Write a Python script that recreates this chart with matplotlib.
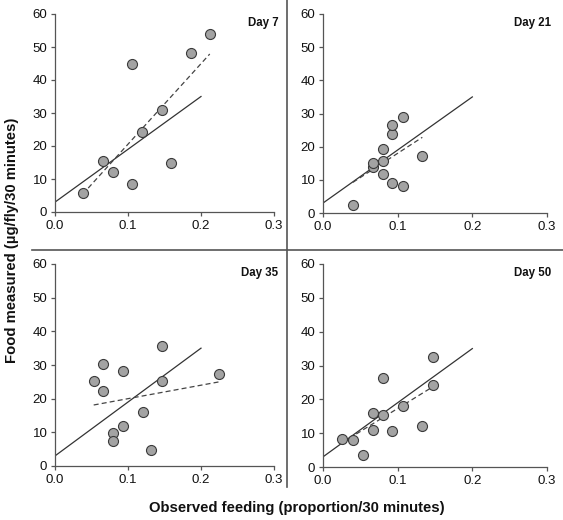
import matplotlib
matplotlib.use("Agg")
import matplotlib.pyplot as plt
from matplotlib.lines import Line2D
import numpy as np

plt.rcParams['font.family'] = ['Liberation Sans', 'DejaVu Sans']

days = ["Day 7", "Day 21", "Day 35", "Day 50"]

day7_x = [0.038, 0.066, 0.079, 0.106, 0.106, 0.119, 0.146, 0.159, 0.186, 0.212]
day7_y = [5.9, 15.5, 12.1, 44.7, 8.5, 24.3, 30.9, 15.0, 48.1, 53.9]

day21_x = [0.040, 0.067, 0.067, 0.080, 0.080, 0.080, 0.093, 0.093, 0.093, 0.107, 0.107, 0.133]
day21_y = [2.4, 13.8, 15.1, 19.4, 15.7, 11.7, 23.7, 26.5, 9.0, 28.8, 8.2, 17.1]

day35_x = [0.053, 0.066, 0.066, 0.079, 0.079, 0.093, 0.093, 0.120, 0.132, 0.146, 0.146, 0.225]
day35_y = [25.2, 30.2, 22.3, 9.9, 7.5, 28.3, 11.9, 15.9, 4.9, 35.5, 25.3, 27.2]

day50_x = [0.026, 0.040, 0.053, 0.067, 0.067, 0.080, 0.080, 0.093, 0.107, 0.133, 0.147, 0.147]
day50_y = [8.3, 7.9, 3.4, 15.9, 10.9, 26.3, 15.4, 10.7, 18.0, 12.1, 32.4, 24.3]

# common (solid) line: intercept, slope, x-range
solid_intercept = 3.0
solid_slope = 160.0
solid_xrange = [0.0, 0.2]

# per-day dashed fits: intercept, slope (drawn over data x-range)
dash_intercepts = [-3.85, 3.4, 16.0, 3.7]
dash_slopes = [244.0, 146.0, 40.0, 136.0]

xs_all = [day7_x, day21_x, day35_x, day50_x]
ys_all = [day7_y, day21_y, day35_y, day50_y]

x_ticks = [0.0, 0.1, 0.2, 0.3]
x_ticklabels = ["0.0", "0.1", "0.2", "0.3"]
y_ticks = [0, 10, 20, 30, 40, 50, 60]

W, H = 563, 520
fig = plt.figure(figsize=(W / 100, H / 100), dpi=100)

# pixel boxes: left, right, top, bottom
boxes = [(55, 274, 14, 212), (323, 547, 14, 213),
         (55, 274, 264, 466), (323, 547, 264, 467)]

axis_col = "#555555"
for i, (l, r, t, b) in enumerate(boxes):
    ax = fig.add_axes([l / W, 1 - b / H, (r - l) / W, (b - t) / H])
    ax.set_xlim(0, 0.3)
    ax.set_ylim(0, 60)
    for s in ["top", "right"]:
        ax.spines[s].set_visible(False)
    for s in ["left", "bottom"]:
        ax.spines[s].set_color(axis_col)
        ax.spines[s].set_linewidth(0.9)
    ax.set_xticks(x_ticks)
    ax.set_xticklabels(x_ticklabels)
    ax.set_yticks(y_ticks)
    ax.tick_params(direction="out", length=3, width=0.9, color=axis_col,
                   labelsize=9.5, labelcolor="#111111", pad=2.5)
    ax.patch.set_alpha(0)

    xs = np.array(xs_all[i])
    ys = np.array(ys_all[i])
    sx = np.array(solid_xrange)
    ax.plot(sx, solid_intercept + solid_slope * sx, color="#333333", lw=0.9, zorder=2)
    dx = np.array([xs.min(), xs.max()])
    ax.plot(dx, dash_intercepts[i] + dash_slopes[i] * dx, color="#444444", lw=0.9,
            ls=(0, (4, 2.5)), zorder=2)
    ax.scatter(xs, ys, s=52, facecolor="#a3a3a3", edgecolor="#3a3a3a",
               linewidth=0.8, zorder=3, clip_on=False)
    ax.text(1.02, 0.985, days[i], transform=ax.transAxes, ha="right", va="top",
            fontsize=8.3, fontweight="bold", color="#111111")

# separator lines
fig.add_artist(Line2D([287 / W, 287 / W], [1, 1 - 487 / H], color="#555555", lw=1.2))
fig.add_artist(Line2D([32 / W, 1], [1 - 250 / H, 1 - 250 / H], color="#555555", lw=1.2))

fig.text(12 / W, 1 - 240 / H, "Food measured (µg/fly/30 minutes)", rotation=90,
         ha="center", va="center", fontsize=10.7, fontweight="bold", color="#111111")
fig.text(297 / W, 1 - 508 / H, "Observed feeding (proportion/30 minutes)",
         ha="center", va="center", fontsize=10.7, fontweight="bold", color="#111111")

fig.savefig("out.png", dpi=100, facecolor="white")
